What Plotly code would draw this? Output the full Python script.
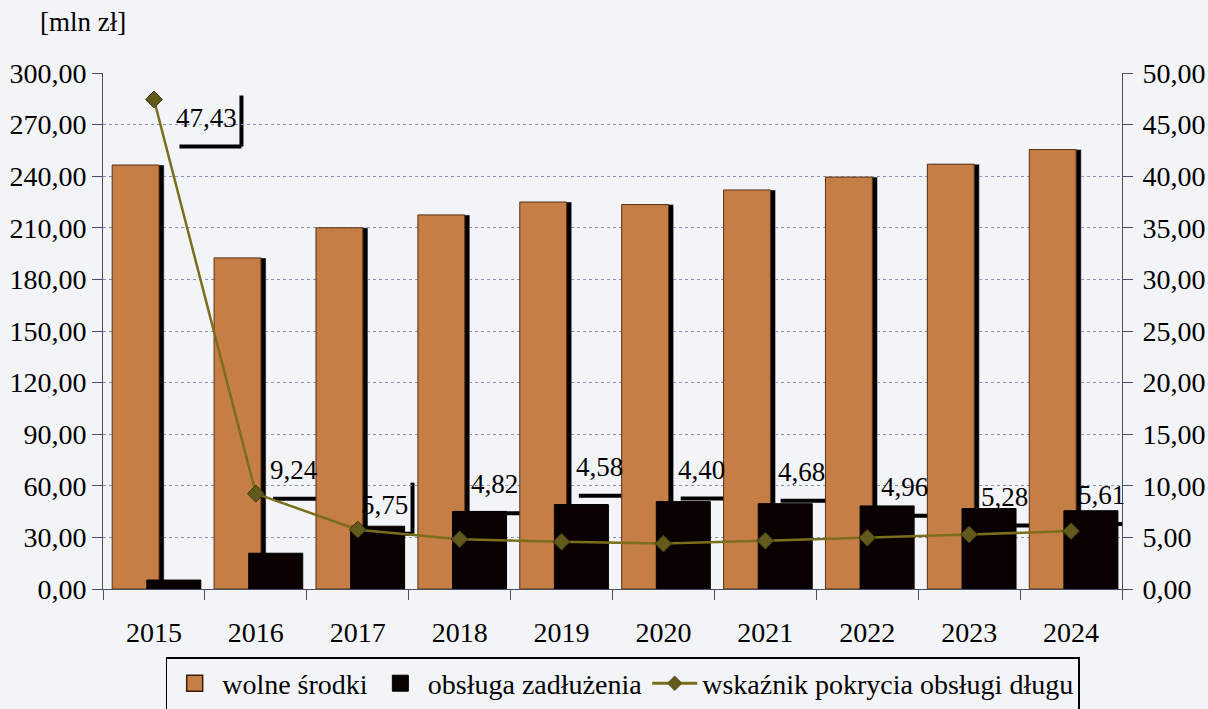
import plotly.graph_objects as go

# --- dane ---
lata = ['2015', '2016', '2017', '2018', '2019', '2020', '2021', '2022', '2023', '2024']
wolne_srodki = [246.5, 192.5, 210.0, 217.5, 225.0, 223.5, 232.0, 239.5, 247.0, 255.5]
obsluga_zadluzenia = [5.2, 20.8, 36.5, 45.1, 49.1, 50.8, 49.6, 48.3, 46.8, 45.5]
wskaznik = [47.43, 9.24, 5.75, 4.82, 4.58, 4.40, 4.68, 4.96, 5.28, 5.61]

# przesunięcia etykiet wskaźnika w pikselach (jak na oryginale)
etykiety_dx = [53, 38, 27, 35, 38, 38, 36, 37, 35, 30]
etykiety_dy = [-18, 24, 25, 55, 75, 74, 69, 51, 38, 36]

FONT = "Liberation Serif"
MIEDZ = '#c47e46'
OLIWKA = '#7a6e1c'
TLO = '#f3f4f7'

fig = go.Figure()

# cień słupków "wolne środki"
fig.add_trace(go.Bar(
    x=lata, y=wolne_srodki, offset=-0.36, width=0.46,
    marker_color='black', showlegend=False, hoverinfo='skip'
))
fig.add_trace(go.Bar(
    x=lata, y=wolne_srodki, offset=-0.41, width=0.46,
    name='wolne środki', showlegend=False,
    marker=dict(color=MIEDZ, line=dict(color='#5a3012', width=1))
))
fig.add_trace(go.Bar(
    x=lata, y=obsluga_zadluzenia, offset=-0.07, width=0.53,
    name='obsługa zadłużenia', showlegend=False,
    marker=dict(color='#0a0000', line=dict(color='black', width=1))
))
fig.add_trace(go.Scatter(
    x=lata, y=wskaznik, yaxis='y2', mode='lines+markers',
    name='wskaźnik pokrycia obsługi długu', showlegend=False,
    line=dict(color=OLIWKA, width=2.5),
    marker=dict(symbol='diamond', size=13, color='#625a1c',
                line=dict(color='#3a3510', width=1))
))

# wpisy legendy (większe symbole niż domyślne dla słupków)
fig.add_trace(go.Scatter(
    x=[None], y=[None], mode='markers', name='wolne środki',
    marker=dict(symbol='square', size=22, color=MIEDZ,
                line=dict(color='#3a1a08', width=1.5))
))
fig.add_trace(go.Scatter(
    x=[None], y=[None], mode='markers', name='obsługa zadłużenia',
    marker=dict(symbol='square', size=22, color='#0a0000',
                line=dict(color='black', width=1))
))
fig.add_trace(go.Scatter(
    x=[None], y=[None], mode='lines+markers', name='wskaźnik pokrycia obsługi długu',
    line=dict(color=OLIWKA, width=3),
    marker=dict(symbol='diamond', size=12, color='#625a1c')
))

# etykiety wartości wskaźnika (x jako indeks kategorii) + cień ramki w kształcie "L"
for i, w in enumerate(wskaznik):
    tekst = f"{w:.2f}".replace('.', ',')
    dx, dy = etykiety_dx[i], etykiety_dy[i]
    hw = (13.5 * (len(tekst) - 1) + 7) / 2
    fig.add_annotation(
        x=i, y=w, xref='x', yref='y2', text=tekst,
        showarrow=False, xshift=dx, yshift=dy,
        font=dict(family=FONT, size=27, color='black')
    )
    wspolne = dict(xref='x', yref='y2', xsizemode='pixel', ysizemode='pixel',
                   xanchor=i, yanchor=w, layer='below',
                   line=dict(color='black', width=4))
    fig.add_shape(type='line', x0=dx + hw + 4, x1=dx + hw + 4,
                  y0=dy - 29, y1=dy + 22, **wspolne)
    fig.add_shape(type='line', x0=dx - hw + 3, x1=dx + hw + 4,
                  y0=dy - 29, y1=dy - 29, **wspolne)

fig.add_annotation(
    text='[mln zł]', xref='paper', yref='paper', x=-0.02, y=1.099,
    xanchor='center', yanchor='middle',
    showarrow=False, font=dict(family=FONT, size=27, color='black')
)

fig.update_layout(
    width=1208, height=709,
    barmode='overlay',
    separators=', ',
    paper_bgcolor=TLO, plot_bgcolor=TLO,
    font=dict(family=FONT, size=28, color='black'),
    margin=dict(l=103, r=86, t=73, b=120, autoexpand=False),
    xaxis=dict(
        type='category', tickangle=0, range=[-0.5, 9.5],
        showline=True, linecolor='#4a4f66', linewidth=1,
        ticks='outside', tickson='boundaries', ticklen=10, tickcolor='#4a4f66',
        ticklabelstandoff=18, showgrid=False
    ),
    yaxis=dict(
        range=[0, 300], dtick=30, tickformat='.2f',
        showline=True, linecolor='#4a4f66', linewidth=1,
        ticks='outside', ticklen=10, tickcolor='#4a4f66',
        showgrid=True, gridcolor='#8a90b8', griddash='dot', gridwidth=1,
        zeroline=False
    ),
    yaxis2=dict(
        range=[0, 50], dtick=5, tickformat='.2f',
        overlaying='y', side='right',
        showline=True, linecolor='#4a4f66', linewidth=1,
        ticks='outside', ticklen=10, tickcolor='#4a4f66',
        ticklabelstandoff=4,
        showgrid=False, zeroline=False
    ),
    legend=dict(
        orientation='h', x=0.51, xanchor='center',
        yref='container', y=(709 - 657) / 709, yanchor='top',
        bordercolor='black', borderwidth=1.5, bgcolor=TLO,
        font=dict(family=FONT, size=28), itemwidth=45
    ),
    showlegend=True
)

fig.write_html("out.html", config={'displayModeBar': False},
               post_script="document.body.style.margin='0px';")
